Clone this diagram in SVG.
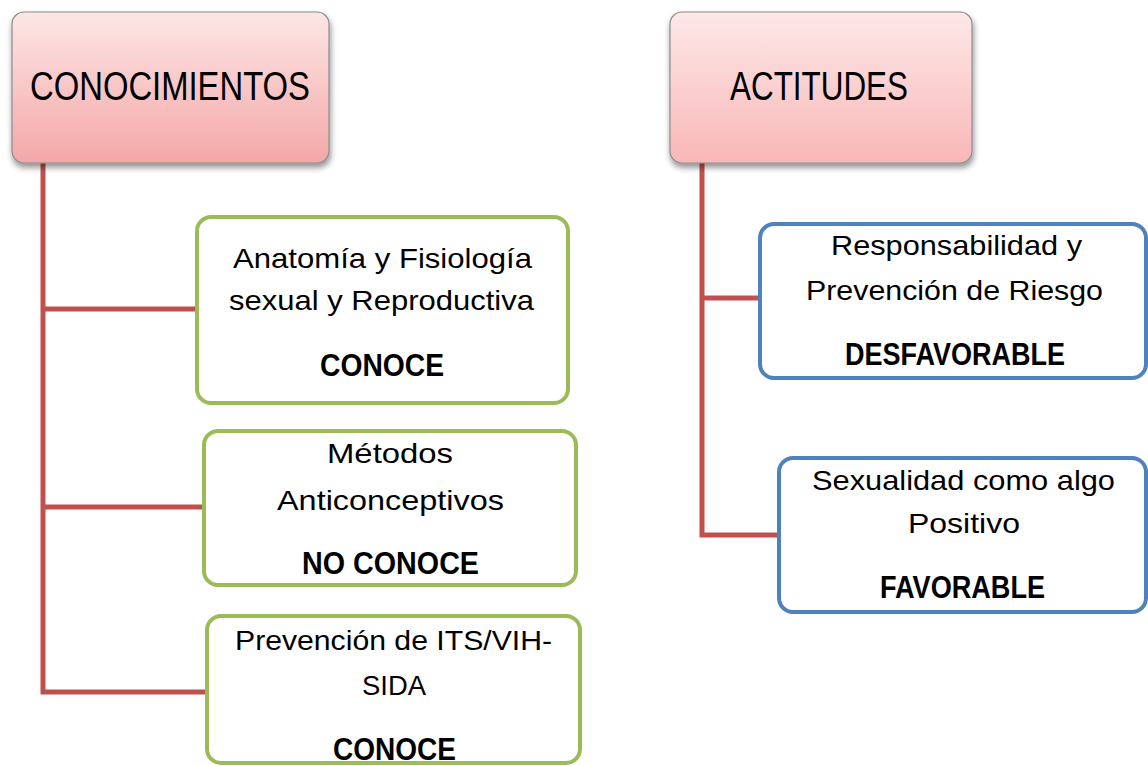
<svg xmlns="http://www.w3.org/2000/svg" width="1148" height="766" viewBox="0 0 1148 766">
<defs>
<linearGradient id="pink" x1="0" y1="0" x2="0" y2="1">
<stop offset="0" stop-color="#fde6e6"/>
<stop offset="1" stop-color="#f4a7a7"/>
</linearGradient>
<linearGradient id="pink2" x1="0" y1="0" x2="0" y2="1">
<stop offset="0" stop-color="#fee8e8"/>
<stop offset="1" stop-color="#f9b7b7"/>
</linearGradient>
<filter id="sh" x="-10%" y="-10%" width="120%" height="130%">
<feGaussianBlur in="SourceAlpha" stdDeviation="3"/>
<feOffset dx="1" dy="4"/>
<feComponentTransfer><feFuncA type="linear" slope="0.45"/></feComponentTransfer>
<feMerge><feMergeNode/><feMergeNode in="SourceGraphic"/></feMerge>
</filter>
</defs>
<style>
.head{stroke:#8c8c8c;stroke-width:1.2;filter:url(#sh)}
.g{fill:#fff;stroke:#9bbb59;stroke-width:4}
.b{fill:#fff;stroke:#4f81bd;stroke-width:4}
.c{fill:none;stroke:#c0504d;stroke-width:5}
text{font-family:"Liberation Sans",Arial,sans-serif;fill:#000;text-anchor:start}
.h{font-size:40px}
.t{font-size:28px}
.k{font-size:32px;font-weight:bold}
</style>
<g id="connectors">
<polyline class="c" points="43,163 43,692 207,692"/>
<line class="c" x1="43" y1="309" x2="197" y2="309"/>
<line class="c" x1="43" y1="507" x2="204" y2="507"/>
<polyline class="c" points="702,163 702,535 779,535"/>
<line class="c" x1="702" y1="298" x2="760" y2="298"/>
</g>
<g id="conocimientos">
<rect class="head" x="12" y="12" width="317" height="151" rx="12" fill="url(#pink)"/>
<text class="h" x="30" y="100" textLength="280" lengthAdjust="spacingAndGlyphs">CONOCIMIENTOS</text>
</g>
<g id="actitudes">
<rect class="head" x="670" y="12" width="302" height="151" rx="12" fill="url(#pink2)"/>
<text class="h" x="730" y="100" textLength="178" lengthAdjust="spacingAndGlyphs">ACTITUDES</text>
</g>
<g id="anatomia">
<rect class="g" x="197" y="217" width="371" height="186" rx="14"/>
<text class="t" x="233" y="268" textLength="299" lengthAdjust="spacingAndGlyphs">Anatomía y Fisiología</text>
<text class="t" x="229" y="310" textLength="305" lengthAdjust="spacingAndGlyphs">sexual y Reproductiva</text>
<text class="k" x="320" y="376" textLength="124" lengthAdjust="spacingAndGlyphs">CONOCE</text>
</g>
<g id="metodos">
<rect class="g" x="204" y="431" width="372" height="154" rx="14"/>
<text class="t" x="327" y="463" textLength="126" lengthAdjust="spacingAndGlyphs">Métodos</text>
<text class="t" x="277" y="510" textLength="227" lengthAdjust="spacingAndGlyphs">Anticonceptivos</text>
<text class="k" x="302" y="574" textLength="177" lengthAdjust="spacingAndGlyphs">NO CONOCE</text>
</g>
<g id="prevencion-its">
<rect class="g" x="207" y="616" width="373" height="147" rx="14"/>
<text class="t" x="235" y="650" textLength="317" lengthAdjust="spacingAndGlyphs">Prevención de ITS/VIH-</text>
<text class="t" x="362" y="695" textLength="64" lengthAdjust="spacingAndGlyphs">SIDA</text>
<text class="k" x="333" y="760" textLength="123" lengthAdjust="spacingAndGlyphs">CONOCE</text>
</g>
<g id="responsabilidad">
<rect class="b" x="760" y="224" width="386" height="154" rx="14"/>
<text class="t" x="831" y="255" textLength="251" lengthAdjust="spacingAndGlyphs">Responsabilidad y</text>
<text class="t" x="806" y="300" textLength="297" lengthAdjust="spacingAndGlyphs">Prevención de Riesgo</text>
<text class="k" x="845" y="365" textLength="220" lengthAdjust="spacingAndGlyphs">DESFAVORABLE</text>
</g>
<g id="sexualidad">
<rect class="b" x="779" y="458" width="367" height="154" rx="14"/>
<text class="t" x="812" y="490" textLength="303" lengthAdjust="spacingAndGlyphs">Sexualidad como algo</text>
<text class="t" x="908" y="533" textLength="112" lengthAdjust="spacingAndGlyphs">Positivo</text>
<text class="k" x="880" y="598" textLength="165" lengthAdjust="spacingAndGlyphs">FAVORABLE</text>
</g>
</svg>
